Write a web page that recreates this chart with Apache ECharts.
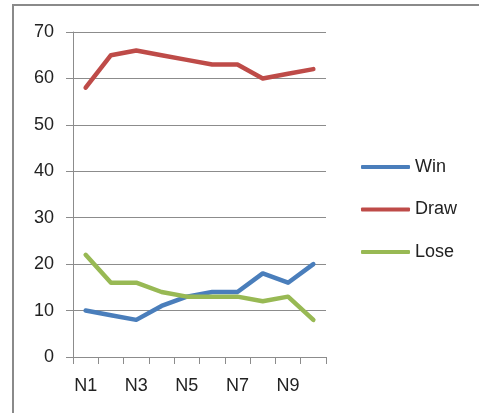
<!DOCTYPE html>
<html>
<head>
<meta charset="utf-8">
<script src="https://cdn.jsdelivr.net/npm/echarts@6/dist/echarts.min.js"></script>
<style>html,body{margin:0;padding:0;background:#fff;}#c{width:479px;height:413px;}</style>
</head>
<body>
<div id="c"></div>
<script>
const categories = ['N1','N2','N3','N4','N5','N6','N7','N8','N9','N10'];
const winValues  = [10, 9, 8, 11, 13, 14, 14, 18, 16, 20];
const drawValues = [58, 65, 66, 65, 64, 63, 63, 60, 61, 62];
const loseValues = [22, 16, 16, 14, 13, 13, 13, 12, 13, 8];
const seriesNames = ['Win', 'Draw', 'Lose'];

const chart = echarts.init(document.getElementById('c'), null, {renderer: 'canvas'});
const font = 'Liberation Sans';
const axisGray = '#8c8c8c';
chart.setOption({
  animation: false,
  backgroundColor: '#fff',
  graphic: [{
    type: 'rect',
    shape: {x: 13, y: 5, width: 520, height: 460},
    style: {fill: 'none', stroke: '#8a8a8a', lineWidth: 2},
    silent: true
  }],
  grid: {left: 73, right: 153, top: 32, bottom: 56, containLabel: false},
  legend: {
    orient: 'vertical',
    left: 356,
    top: 152,
    padding: 5,
    itemWidth: 49,
    itemHeight: 4,
    itemGap: 22.5,
    icon: 'roundRect',
    textStyle: {fontFamily: font, fontSize: 18, color: '#222', lineHeight: 20},
    data: seriesNames
  },
  xAxis: {
    type: 'category',
    data: categories,
    boundaryGap: true,
    axisLine: {lineStyle: {color: axisGray, width: 1}},
    axisTick: {show: true, interval: 0, length: 7, lineStyle: {color: axisGray}},
    axisLabel: {interval: 1, margin: 20, fontFamily: font, fontSize: 18, color: '#222'}
  },
  yAxis: {
    type: 'value',
    min: 0, max: 70, interval: 10,
    axisLine: {show: true, lineStyle: {color: axisGray, width: 1}},
    axisTick: {show: true, length: 7, lineStyle: {color: axisGray}},
    splitLine: {lineStyle: {color: axisGray, width: 1}},
    axisLabel: {margin: 19, fontFamily: font, fontSize: 18, color: '#222'}
  },
  series: [
    {name: seriesNames[0], type: 'line', data: winValues, symbol: 'none',
     lineStyle: {width: 4.5, color: '#4A7EBB', cap: 'round', join: 'round'}, itemStyle: {color: '#4A7EBB'}},
    {name: seriesNames[1], type: 'line', data: drawValues, symbol: 'none',
     lineStyle: {width: 4.5, color: '#BE4B48', cap: 'round', join: 'round'}, itemStyle: {color: '#BE4B48'}},
    {name: seriesNames[2], type: 'line', data: loseValues, symbol: 'none',
     lineStyle: {width: 4.5, color: '#98B954', cap: 'round', join: 'round'}, itemStyle: {color: '#98B954'}}
  ]
});
</script>
</body>
</html>
